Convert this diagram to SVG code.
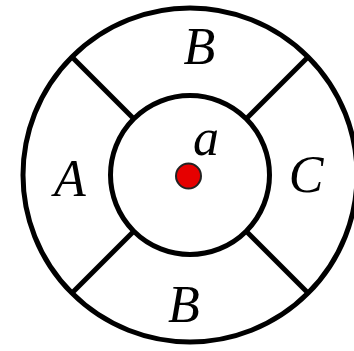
<svg xmlns="http://www.w3.org/2000/svg" width="354" height="351" viewBox="0 0 354 351">
<style>
.ln{fill:none;stroke:#000;stroke-width:5}
.lb{font-family:"Liberation Serif","Times New Roman",serif;font-style:italic;font-size:52px;fill:#000;text-anchor:middle}
</style>
<rect width="354" height="351" fill="#fff"/>
<g id="connectors">
<line class="ln" x1="72" y1="57" x2="134" y2="119"/>
<line class="ln" x1="308" y1="57" x2="246" y2="119"/>
<line class="ln" x1="72" y1="293" x2="134" y2="231"/>
<line class="ln" x1="308" y1="293" x2="246" y2="231"/>
</g>
<g id="outer"><circle class="ln" cx="190" cy="175" r="167"/></g>
<g id="inner"><circle class="ln" cx="190" cy="175" r="79.5"/></g>
<g id="dot"><circle cx="188.5" cy="176" r="12.5" fill="#e60000" stroke="#222" stroke-width="2"/></g>
<g id="labelB1"><text class="lb" x="199.5" y="64">B</text></g>
<g id="labelA"><text class="lb" x="70" y="196">A</text></g>
<g id="labelC"><text class="lb" x="306" y="192">C</text></g>
<g id="labela"><text class="lb" x="206" y="155">a</text></g>
<g id="labelB2"><text class="lb" x="184" y="322">B</text></g>
</svg>
